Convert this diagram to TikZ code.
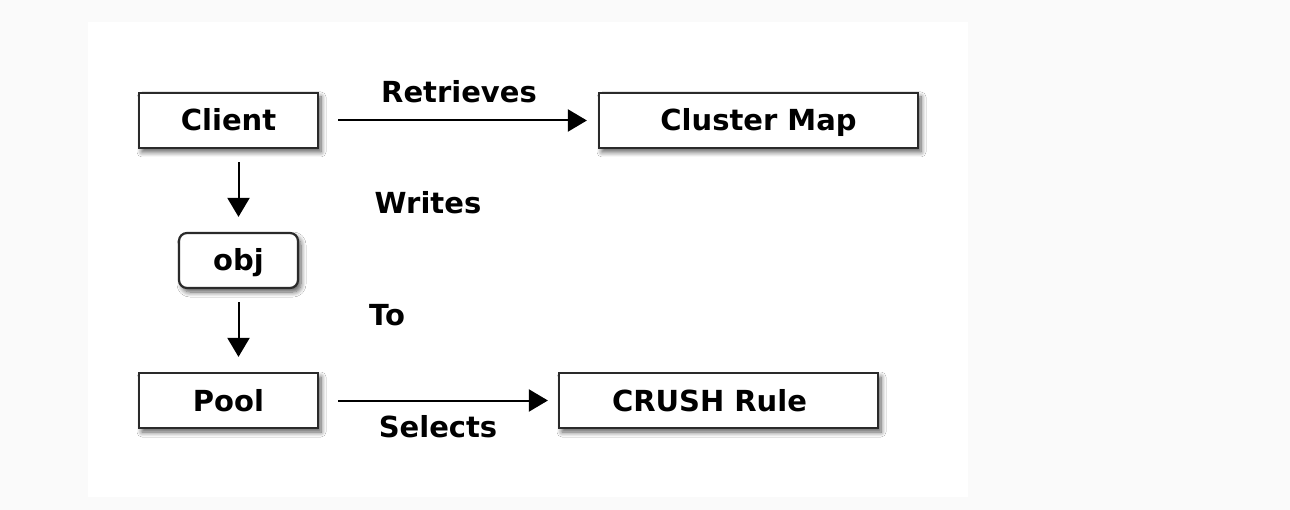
\documentclass[tikz,border=0pt]{standalone}
\usepackage{fontspec}
\setmainfont{DejaVu Sans}
\usepackage{tikz}
\usetikzlibrary{calc}
\usetikzlibrary{positioning}
\usetikzlibrary{shadows.blur}
\usetikzlibrary{arrows.meta}

\definecolor{pagegray}{HTML}{FAFAFA}
\definecolor{edgegray}{HTML}{2A2A2A}

\tikzset{
	box/.style = {draw = edgegray, line width = 2.2pt, fill = white,
		minimum width = 179pt, minimum height = 55pt, inner sep = 0pt,
		text height = 21pt, text depth = 0pt,
		blur shadow = {shadow xshift = 3pt, shadow yshift = -4pt,
			shadow blur steps = 8, shadow blur radius = 5pt, shadow opacity = 65}},
	roundbox/.style = {box, rounded corners = 8pt, minimum width = 119pt},
	wide/.style = {minimum width = 319pt},
	link/.style = {line width = 2pt, -{Triangle[length = 19pt, width = 22pt]}},
	word/.style = {inner sep = 0pt}
}

\begin{document}
\begin{tikzpicture}[x = 1pt, y = -1pt, font = \fontsize{29}{34}\selectfont\bfseries]
			\useasboundingbox (0, 0) rectangle (1290, 510);
			\fill[pagegray] (0, 0) rectangle (1290, 510);
			\fill[white] (88, 22) rectangle (968, 497); %panel

			\node[box] (client) at (228.5, 120.5) {Client};
			\node[box, wide] (clustermap) at (758.5, 120.5) {Cluster Map};
			\node[roundbox] (obj) at (238.5, 260.5) {obj};
			\node[box] (pool) at (228.5, 400.5) {Pool};
			\node[box, wide] (crushrule) at (718.5, 400.5) {CRUSH Rule\hspace*{18pt}};

			\draw[link, shorten < = 19pt, shorten > = 11pt] (client.east) -- (clustermap.west);
			\draw[link, shorten < = 13pt, shorten > = 15pt] (client.south -| obj.north) -- (obj.north);
			\draw[link, shorten < = 13pt, shorten > = 15pt] (obj.south) -- (pool.north -| obj.south);
			\draw[link, shorten < = 19pt, shorten > = 10pt] (pool.east) -- (crushrule.west);

			\node[word] (retrieves) at (459, 92) {Retrieves};
			\node[word] (writes) at (428, 203) {Writes};
			\node[word] (to) at (387, 315) {To};
			\node[word] (selects) at (438, 427) {Selects};
        \end{tikzpicture}
\end{document}
